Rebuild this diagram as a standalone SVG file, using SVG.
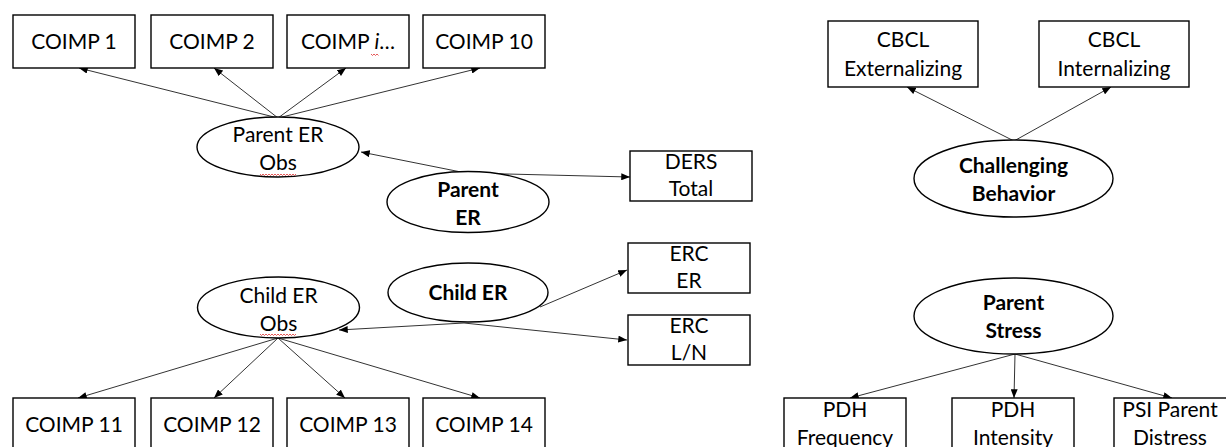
<svg xmlns="http://www.w3.org/2000/svg" width="1226" height="447" viewBox="0 0 1226 447">
  <style>
    .box { fill: #ffffff; stroke: #000000; stroke-width: 1.4; }
    .lat { fill: #ffffff; stroke: #000000; stroke-width: 1.4; }
    .lbl { font-family: Lato, "Liberation Sans", Arial, sans-serif; font-size: 21px; fill: #000000; text-anchor: middle; }
    .bold { font-weight: bold; }
    .edge { fill: none; stroke: #333333; stroke-width: 1; marker-end: url(#ah); }
    .squiggle { fill: none; stroke: #e03030; stroke-width: 0.8; }
  </style>
  <defs>
    <marker id="ah" viewBox="0 0 10 8" refX="10" refY="4" markerWidth="9" markerHeight="7" markerUnits="userSpaceOnUse" orient="auto">
      <path d="M0,0 L10,4 L0,8 z" fill="#000000"/>
    </marker>
  </defs>
  <rect width="1226" height="447" fill="#ffffff"/>

  <!-- connectors -->
  <g id="connectors">
    <!-- Parent ER Obs to its indicators -->
    <line class="edge" x1="278" y1="118" x2="79" y2="68"/>
    <line class="edge" x1="278" y1="118" x2="214" y2="68"/>
    <line class="edge" x1="278" y1="118" x2="346" y2="68"/>
    <line class="edge" x1="278" y1="118" x2="480" y2="68"/>
    <!-- Parent ER -->
    <line class="edge" x1="466" y1="173" x2="361" y2="152"/>
    <line class="edge" x1="466" y1="173" x2="630" y2="177"/>
    <!-- Child ER -->
    <line class="edge" x1="540" y1="307" x2="627" y2="270"/>
    <line class="edge" x1="464" y1="323" x2="339" y2="330"/>
    <line class="edge" x1="464" y1="323" x2="627" y2="340"/>
    <!-- Child ER Obs to its indicators -->
    <line class="edge" x1="278" y1="338" x2="78" y2="398"/>
    <line class="edge" x1="278" y1="338" x2="214" y2="398"/>
    <line class="edge" x1="278" y1="338" x2="345" y2="398"/>
    <line class="edge" x1="278" y1="338" x2="480" y2="398"/>
    <!-- Challenging Behavior -->
    <line class="edge" x1="1014" y1="141" x2="907" y2="87"/>
    <line class="edge" x1="1014" y1="141" x2="1111" y2="87"/>
    <!-- Parent Stress -->
    <line class="edge" x1="1015" y1="354" x2="850" y2="398"/>
    <line class="edge" x1="1015" y1="354" x2="1014" y2="398"/>
    <line class="edge" x1="1015" y1="354" x2="1172" y2="398"/>
  </g>

  <!-- top indicator boxes -->
  <g id="coimp1"><rect class="box" x="13" y="15" width="122" height="53"/><text class="lbl" x="74" y="49">COIMP 1</text></g>
  <g id="coimp2"><rect class="box" x="151" y="15" width="122" height="53"/><text class="lbl" x="212" y="49">COIMP 2</text></g>
  <g id="coimpi"><rect class="box" x="287" y="15" width="122" height="53"/><text class="lbl" x="348" y="49">COIMP <tspan font-style="italic">i</tspan>…</text>
    <path class="squiggle" d="M371,54 l1.5,1.5 l1.5,-1.5 l1.5,1.5 l1.5,-1.5 l1.5,1.5"/></g>
  <g id="coimp10"><rect class="box" x="423" y="15" width="122" height="53"/><text class="lbl" x="484" y="49">COIMP 10</text></g>

  <!-- Parent ER Obs -->
  <g id="parent-er-obs">
    <ellipse class="lat" cx="278" cy="147" rx="81" ry="30"/>
    <text class="lbl" x="278" y="142">Parent ER</text>
    <text class="lbl" x="278" y="170">Obs</text>
    <path class="squiggle" d="M260,174 l1.5,1.5 l1.5,-1.5 l1.5,1.5 l1.5,-1.5 l1.5,1.5 l1.5,-1.5 l1.5,1.5 l1.5,-1.5 l1.5,1.5 l1.5,-1.5 l1.5,1.5 l1.5,-1.5 l1.5,1.5 l1.5,-1.5 l1.5,1.5 l1.5,-1.5 l1.5,1.5 l1.5,-1.5 l1.5,1.5 l1.5,-1.5 l1.5,1.5 l1.5,-1.5 l1.5,1.5 l1.5,-1.5"/>
  </g>

  <!-- Parent ER -->
  <g id="parent-er">
    <ellipse class="lat" cx="468" cy="202" rx="81" ry="30.5"/>
    <text class="lbl bold" x="468" y="197">Parent</text>
    <text class="lbl bold" x="468" y="225">ER</text>
  </g>

  <!-- DERS Total -->
  <g id="ders-total">
    <rect class="box" x="630" y="151" width="122" height="50"/>
    <text class="lbl" x="691" y="169">DERS</text>
    <text class="lbl" x="691" y="196">Total</text>
  </g>

  <!-- ERC ER -->
  <g id="erc-er">
    <rect class="box" x="628" y="243" width="122" height="50"/>
    <text class="lbl" x="689" y="261">ERC</text>
    <text class="lbl" x="689" y="288">ER</text>
  </g>

  <!-- ERC L/N -->
  <g id="erc-ln">
    <rect class="box" x="628" y="315" width="122" height="50"/>
    <text class="lbl" x="689" y="333">ERC</text>
    <text class="lbl" x="689" y="360">L/N</text>
  </g>

  <!-- Child ER -->
  <g id="child-er">
    <ellipse class="lat" cx="468" cy="292.5" rx="80" ry="29.5"/>
    <text class="lbl bold" x="468" y="300">Child ER</text>
  </g>

  <!-- Child ER Obs -->
  <g id="child-er-obs">
    <ellipse class="lat" cx="278.5" cy="307.5" rx="81" ry="30.5"/>
    <text class="lbl" x="278.5" y="302.5">Child ER</text>
    <text class="lbl" x="278.5" y="330.5">Obs</text>
    <path class="squiggle" d="M260,334 l1.5,1.5 l1.5,-1.5 l1.5,1.5 l1.5,-1.5 l1.5,1.5 l1.5,-1.5 l1.5,1.5 l1.5,-1.5 l1.5,1.5 l1.5,-1.5 l1.5,1.5 l1.5,-1.5 l1.5,1.5 l1.5,-1.5 l1.5,1.5 l1.5,-1.5 l1.5,1.5 l1.5,-1.5 l1.5,1.5 l1.5,-1.5 l1.5,1.5 l1.5,-1.5 l1.5,1.5 l1.5,-1.5"/>
  </g>

  <!-- bottom indicator boxes -->
  <g id="coimp11"><rect class="box" x="13" y="398" width="122" height="60"/><text class="lbl" x="74" y="432">COIMP 11</text></g>
  <g id="coimp12"><rect class="box" x="151" y="398" width="122" height="60"/><text class="lbl" x="212" y="432">COIMP 12</text></g>
  <g id="coimp13"><rect class="box" x="287" y="398" width="122" height="60"/><text class="lbl" x="348" y="432">COIMP 13</text></g>
  <g id="coimp14"><rect class="box" x="423" y="398" width="122" height="60"/><text class="lbl" x="484" y="432">COIMP 14</text></g>

  <!-- CBCL indicators -->
  <g id="cbcl-ext">
    <rect class="box" x="828" y="21" width="150" height="66"/>
    <text class="lbl" x="903" y="47">CBCL</text>
    <text class="lbl" x="903" y="76">Externalizing</text>
  </g>
  <g id="cbcl-int">
    <rect class="box" x="1039" y="21" width="150" height="66"/>
    <text class="lbl" x="1114" y="47">CBCL</text>
    <text class="lbl" x="1114" y="76">Internalizing</text>
  </g>

  <!-- Challenging Behavior -->
  <g id="challenging-behavior">
    <ellipse class="lat" cx="1013.5" cy="178.5" rx="99.5" ry="38.5"/>
    <text class="lbl bold" x="1013.5" y="173">Challenging</text>
    <text class="lbl bold" x="1013.5" y="201">Behavior</text>
  </g>

  <!-- Parent Stress -->
  <g id="parent-stress">
    <ellipse class="lat" cx="1013.5" cy="316" rx="99.5" ry="38"/>
    <text class="lbl bold" x="1013.5" y="310">Parent</text>
    <text class="lbl bold" x="1013.5" y="338">Stress</text>
  </g>

  <!-- Parent Stress indicators -->
  <g id="pdh-frequency">
    <rect class="box" x="784" y="398" width="122" height="60"/>
    <text class="lbl" x="845" y="417">PDH</text>
    <text class="lbl" x="845" y="445">Frequency</text>
  </g>
  <g id="pdh-intensity">
    <rect class="box" x="952" y="398" width="122" height="60"/>
    <text class="lbl" x="1013" y="417">PDH</text>
    <text class="lbl" x="1013" y="445">Intensity</text>
  </g>
  <g id="psi-parent-distress">
    <rect class="box" x="1114" y="398" width="130" height="60"/>
    <text class="lbl" x="1170" y="417">PSI Parent</text>
    <text class="lbl" x="1170" y="445">Distress</text>
  </g>
</svg>
